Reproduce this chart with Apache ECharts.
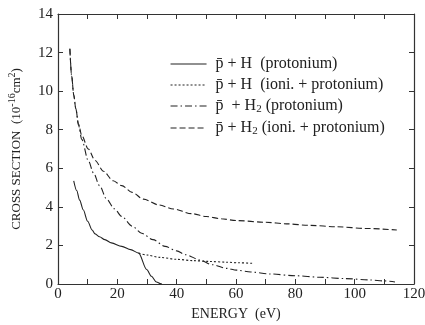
<!DOCTYPE html>
<html>
<head>
<meta charset="utf-8">
<script src="https://cdn.jsdelivr.net/npm/echarts@6/dist/echarts.min.js"></script>
<style>
  html, body { margin: 0; padding: 0; background: #fff; }
  #chart { width: 425px; height: 325px; }
</style>
</head>
<body>
<div id="chart"></div>
<script>
// Antiproton capture cross sections vs. collision energy
const seriesNames = [
  'pH_prot',
  'pH_ioni',
  'pH2_prot',
  'pH2_ioni'
];

// p̄ + H (protonium)
const pHProtE = [5.3, 6.3, 7.3, 8.5, 10, 11.5, 12.5, 14, 15.8, 18, 21.5, 24.5, 27.2, 29.9, 31.5, 33.2, 34.5, 35];
const pHProtS = [5.35, 4.85, 4.35, 3.85, 3.25, 2.8, 2.6, 2.45, 2.3, 2.13, 1.95, 1.78, 1.6, 0.75, 0.4, 0.1, 0.02, 0];

// p̄ + H (ioni. + protonium), branching off above the protonium threshold
const pHIoniE = [27.2, 30, 34.4, 40, 45.6, 51, 56.9, 61, 65.8];
const pHIoniS = [1.6, 1.5, 1.38, 1.28, 1.21, 1.17, 1.13, 1.1, 1.07];

// p̄ + H2 (protonium)
const pH2ProtE = [4.0, 4.6, 5.3, 6.0, 6.9, 8, 10.2, 12, 14, 16.4, 19, 21.5, 25, 28.2, 32, 36.1, 40, 43, 47.9, 52, 56.9, 60.2, 65, 71.5, 80, 88.3, 97, 105.2, 110, 113.6];
const pH2ProtS = [12.2, 10.8, 9.8, 9.1, 8.25, 7.5, 6.4, 5.75, 5.1, 4.4, 3.9, 3.5, 3.0, 2.63, 2.3, 1.95, 1.72, 1.52, 1.24, 1.0, 0.81, 0.72, 0.62, 0.52, 0.43, 0.35, 0.28, 0.21, 0.16, 0.1];

// p̄ + H2 (ioni. + protonium)
const pH2IoniE = [4.0, 4.6, 5.3, 6.0, 6.9, 8, 10.2, 12.5, 15.3, 18.6, 21.5, 25, 28.8, 34, 38.9, 45, 50, 55, 60, 70, 77, 85, 93.9, 104, 114.2];
const pH2IoniS = [12.2, 10.8, 9.8, 9.1, 8.3, 7.7, 7.0, 6.4, 5.85, 5.35, 5.1, 4.75, 4.4, 4.1, 3.89, 3.65, 3.5, 3.38, 3.29, 3.2, 3.12, 3.04, 2.97, 2.88, 2.8];

// Axis ranges and tick steps
const xMin = 0, xMax = 120, xStep = 10, xLabelStep = 20;
const yMin = 0, yMax = 14, yStep = 2;

const ink = '#222';
const serif = '"Liberation Serif", "DejaVu Serif", serif';

function pairs(xs, ys) { return xs.map((x, i) => [x, ys[i]]); }

// Legend labels as rich text (p̄ with overbar, H₂ subscript)
const legendText = {
  pH_prot:  '{t|p\u0304 + H  (protonium)}',
  pH_ioni:  '{t|p\u0304 + H  (ioni. + protonium)}',
  pH2_prot: '{t|p\u0304  + H}{s|2}{t| (protonium)}',
  pH2_ioni: '{t|p\u0304 + H}{s|2}{t| (ioni. + protonium)}'
};

function lineSeries(name, xs, ys, type) {
  return {
    name: name,
    type: 'line',
    xAxisIndex: 0,
    yAxisIndex: 0,
    data: pairs(xs, ys),
    symbol: 'none',
    smooth: 0.3,
    smoothMonotone: 'x',
    lineStyle: { color: ink, width: 1.1, type: type },
    itemStyle: { color: ink },
    z: 3
  };
}

const chart = echarts.init(document.getElementById('chart'), null, { renderer: 'canvas' });

const frameAxisLine = { show: true, onZero: false, lineStyle: { color: '#333', width: 1.2 } };
const frameTick = { show: true, inside: true, length: 5, lineStyle: { color: '#333', width: 1 } };

chart.setOption({
  animation: false,
  backgroundColor: '#fff',
  textStyle: { fontFamily: serif },
  grid: { left: 58, right: 11, top: 14, bottom: 41, containLabel: false, outerBoundsMode: 'none' },
  legend: {
    show: true,
    orient: 'vertical',
    left: 165,
    top: 51,
    itemWidth: 36,
    itemHeight: 14,
    itemGap: 5,
    data: seriesNames,
    formatter: n => legendText[n],
    itemStyle: { opacity: 0 },
    lineStyle: { width: 1.1 },
    textStyle: {
      padding: [0, 0, 0, 4],
      rich: {
        t: { fontFamily: serif, fontSize: 16, color: ink, lineHeight: 18 },
        s: { fontFamily: serif, fontSize: 11, color: ink, lineHeight: 18, verticalAlign: 'bottom', padding: [6, 0, 0, 0] }
      }
    }
  },
  xAxis: [{
    type: 'value',
    min: xMin, max: xMax, interval: xStep,
    name: 'ENERGY  (eV)',
    nameLocation: 'middle',
    nameGap: 23,
    nameTextStyle: { fontFamily: serif, fontSize: 14, color: ink },
    axisLine: frameAxisLine,
    axisTick: frameTick,
    axisLabel: {
      fontFamily: serif, fontSize: 15, color: ink, margin: 3,
      formatter: v => (v % xLabelStep === 0 ? String(v) : '')
    },
    splitLine: { show: false }
  }, {
    type: 'value', position: 'top',
    min: xMin, max: xMax, interval: xStep,
    axisLine: frameAxisLine, axisTick: frameTick,
    axisLabel: { show: false }, splitLine: { show: false }
  }],
  yAxis: [{
    type: 'value',
    min: yMin, max: yMax, interval: yStep,
    name: '{a|CROSS SECTION  (10}{u|-16}{a|cm}{u|2}{a|)}',
    nameLocation: 'middle',
    nameGap: 31,
    nameRotate: 90,
    nameTextStyle: {
      rich: {
        a: { fontFamily: serif, fontSize: 13, color: ink, lineHeight: 20 },
        u: { fontFamily: serif, fontSize: 10, color: ink, lineHeight: 20, verticalAlign: 'top' }
      }
    },
    axisLine: frameAxisLine,
    axisTick: frameTick,
    axisLabel: { fontFamily: serif, fontSize: 15, color: ink, margin: 5 },
    splitLine: { show: false }
  }, {
    type: 'value', position: 'right',
    min: yMin, max: yMax, interval: yStep,
    axisLine: frameAxisLine, axisTick: frameTick,
    axisLabel: { show: false }, splitLine: { show: false }
  }],
  series: [
    lineSeries(seriesNames[0], pHProtE, pHProtS, 'solid'),
    lineSeries(seriesNames[1], pHIoniE, pHIoniS, [2, 2]),
    lineSeries(seriesNames[2], pH2ProtE, pH2ProtS, [7, 3, 1.5, 3]),
    lineSeries(seriesNames[3], pH2IoniE, pH2IoniS, [6, 3])
  ]
});
</script>
</body>
</html>
